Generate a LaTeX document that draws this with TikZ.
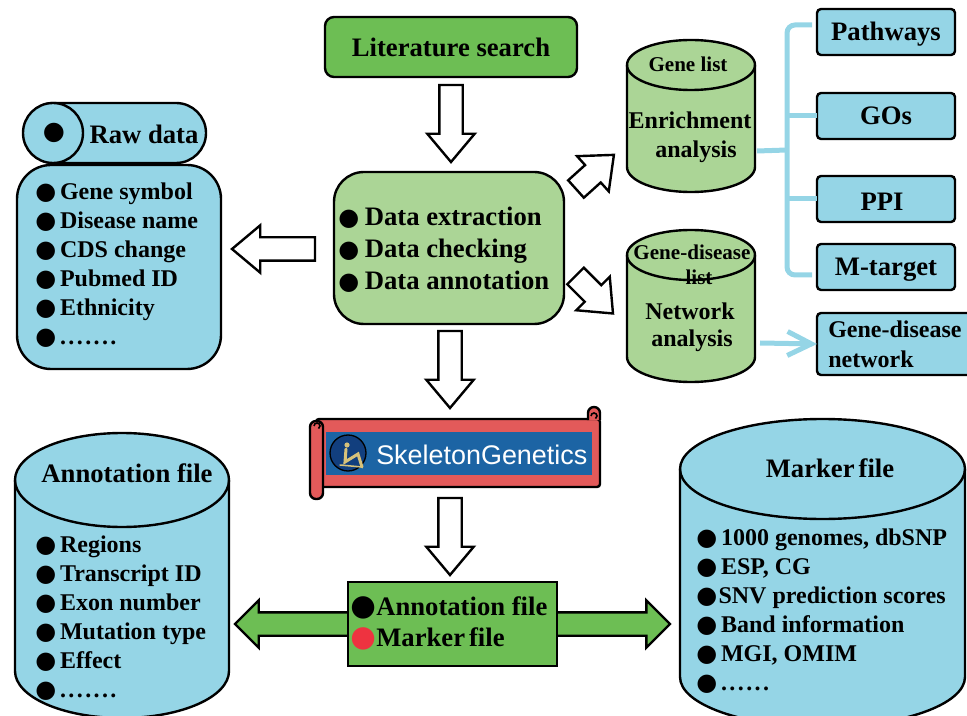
\documentclass[tikz,border=0pt]{standalone}
\usepackage{fontspec}
\setmainfont{Liberation Serif}
\setsansfont{Liberation Sans}
\newfontfamily\symfont{DejaVu Sans}
\usetikzlibrary{shapes.geometric}
\usetikzlibrary{shapes.arrows}
\usetikzlibrary{shapes.misc}
\usetikzlibrary{arrows.meta}
\newdimen\pxu
\pxu=0.75pt
\definecolor{skyfill}{HTML}{95D5E6}
\definecolor{paleleaf}{HTML}{ABD596}
\definecolor{leaf}{HTML}{6DBE54}
\definecolor{scrollred}{HTML}{E35A5A}
\definecolor{scrollblue}{HTML}{1C64A4}
\definecolor{logoblue}{HTML}{123F7E}
\definecolor{boneTan}{HTML}{D8C27A}
\definecolor{dotred}{HTML}{EE3340}
\newcommand{\blob}[2][black]{\textcolor{#1}{\symfont\fontsize{#2}{#2}\selectfont ●}}
\newcommand{\listdot}{\blob{18}\hspace{2.9pt}}
\newcommand{\dotrun}[1]{{\addfontfeature{LetterSpace=10}#1}}
% fill, centre x, top y, x radius, y radius, bottom y
\newcommand{\barrel}[6]{
	\draw[outlined, fill=#1] (#2-#4,#3+#5) arc (180:360:#4 and #5) -- (#2+#4,#6-#5) arc (0:180:#4 and #5) -- cycle;
	\draw[outlined] (#2-#4,#3+#5) arc (180:0:#4 and #5);
}
\tikzset{
	outlined/.style={draw=black, line width=1.8pt, inner sep=0pt, outer sep=0pt},
	titletext/.style={font=\fontsize{20}{24}\selectfont\bfseries},
	midtext/.style={font=\fontsize{18}{22}\selectfont\bfseries, align=center},
	smalltext/.style={font=\fontsize{15.8}{19}\selectfont\bfseries},
	listtext/.style={font=\fontsize{18}{21.75}\selectfont\bfseries, align=left, anchor=west, inner sep=0pt},
	bluebox/.style={outlined, rectangle, rounded corners=4\pxu, fill=skyfill, titletext, text height=16pt, text depth=3.2pt, minimum width=138\pxu, minimum height=46\pxu},
	blockarrow/.style={outlined, single arrow, single arrow head extend=12\pxu, single arrow tip angle=80, inner xsep=0pt, inner ysep=10.5\pxu, fill=white, anchor=tail},
	link/.style={draw=skyfill, line width=5\pxu, rounded corners=8\pxu}
}

\begin{document}
\begin{tikzpicture}[x=1\pxu, y=-1\pxu]
\clip (0,0) rectangle (967,716);

\node[outlined, rectangle, rounded corners=9\pxu, fill=leaf, titletext, minimum width=252\pxu, minimum height=60\pxu] (litsearch) at (451,47) {Literature search};

\node[outlined, rectangle, rounded corners=30\pxu, fill=paleleaf, minimum width=230\pxu, minimum height=152\pxu] (dataproc) at (449,248) {};
\node[font=\fontsize{20}{24}\selectfont\bfseries, align=left, anchor=west, inner sep=0pt] (datatext) at (338,250) {\blob{18}\hspace{4.2pt}Data extraction\\\blob{18}\hspace{4.2pt}Data checking\\\blob{18}\hspace{4.2pt}Data annotation};

% raw data, left side
\node[outlined, rounded rectangle, fill=skyfill, minimum width=182\pxu, minimum height=60\pxu] (rawhead) at (115,133) {};
\node[outlined, circle, fill=skyfill, minimum size=60\pxu] (rawend) at (53,133) {\hspace{1.5pt}\blob{19}};
\node[titletext] (rawtitle) at (144,134) {Raw data};
\node[outlined, rectangle, rounded corners=34\pxu, fill=skyfill, minimum width=204\pxu, minimum height=204\pxu] (rawbox) at (119,267) {};
\node[listtext] (rawlist) at (35,265) {\listdot Gene symbol\\\listdot Disease name\\\listdot CDS change\\\listdot Pubmed ID\\\listdot Ethnicity\\\listdot\dotrun{.......}};

% analysis barrels
\barrel{paleleaf}{691}{40}{64}{25}{192}
\node[smalltext] (genelist) at (688,64) {Gene list};
\node[midtext] (enrichtext) at (690,120) {Enrichment};
\node[midtext] (enrichtwo) at (696,152) {analysis};
\barrel{paleleaf}{691}{230}{64}{25}{382}
\node[smalltext] (diseaselist) at (692,252) {Gene-disease};
\node[smalltext] (diseasetwo) at (699,277) {list};
\node[midtext] (networktext) at (690,311) {Network};
\node[midtext] (networktwo) at (692,341) {analysis};

\node[bluebox] (pathways) at (886,32) {Pathways};
\node[bluebox] (gos) at (886,116) {GOs};
\node[bluebox, text height=18pt, text depth=0pt] (ppi) at (886,199) {\hspace*{-6pt}PPI};
\node[bluebox] (mtarget) at (886,267) {M-target};
\node[outlined, rectangle, rounded corners=4\pxu, fill=skyfill, minimum width=162\pxu, minimum height=62\pxu] (genenet) at (898,344) {};
\node[font=\fontsize{18}{22.5}\selectfont\bfseries, align=left, anchor=west, inner sep=0pt] (genenettext) at (828,344) {Gene-disease\\network};

\coordinate (hub) at (787,150);
\coordinate (enrichout) at (757,151);
\coordinate (netout) at (760,343);
\coordinate (pathin) at (812,25);
\coordinate (targetin) at (812,275);
\draw[link] (pathin) -- (787,25) -- (787,275) -- (targetin);
\draw[link] (enrichout) -- (hub);
\draw[link] (hub |- gos) -- (gos.west);
\draw[link] (hub |- ppi) -- (ppi.west);
\draw[draw=skyfill, line width=5\pxu, -{Straight Barb[length=18pt, width=18pt, line width=3.75pt]}] (netout) -- (genenet.west);

% scroll
\draw[outlined, fill=scrollred, rounded corners=3\pxu] (316,419) -- (600,419) -- (600,487) -- (318,487) -- cycle;
\draw[outlined, fill=scrollred] (588,420) -- (588,413) arc (180:360:6) -- (600,420);
\draw[line width=1.2pt] (591,416) arc (180:420:3);
\draw[outlined, fill=scrollred, rounded corners=6\pxu] (310,421) rectangle (323,499);
\draw[line width=1.2pt] (314,426) arc (180:420:3);
\node[rectangle, fill=scrollblue, inner sep=0pt, minimum width=266\pxu, minimum height=43\pxu] (scrollpanel) at (459,453) {};
\node[circle, draw=black, line width=1pt, fill=logoblue, minimum size=36\pxu, inner sep=0pt] (skeletonlogo) at (348,453) {};
\fill[boneTan] (347,445) circle (2.6);
\draw[boneTan, line width=3\pxu, line cap=round] (346,449) -- (345,462) -- (358,454) -- (362,467);
\draw[boneTan, line width=1.5\pxu, line cap=round] (340,465) -- (362,467);
\node[font=\fontsize{20.2}{24}\selectfont\sffamily, text=white, anchor=west, inner sep=0pt] (skeletontext) at (376,455) {SkeletonGenetics};

% bottom
\node[outlined, double arrow, double arrow head extend=12\pxu, inner xsep=0pt, inner ysep=10.5\pxu, fill=leaf, minimum height=435\pxu] (filearrow) at (452.5,624) {};
\node[outlined, rectangle, fill=leaf, minimum width=209\pxu, minimum height=84\pxu] (filebox) at (452.5,624) {};
\node[font=\fontsize{20}{23.25}\selectfont\bfseries, align=left, anchor=west, inner sep=0pt] (filetext) at (350,623) {\blob{22}\hspace{0.3pt}Annotation file\\\blob[dotred]{22}\hspace{0.3pt}Marker\hspace{3pt}file};

\barrel{skyfill}{122}{433}{107}{47}{718}
\node[titletext] (annottitle) at (127,473) {Annotation file};
\node[listtext] (annotlist) at (35,618) {\listdot Regions\\\listdot Transcript ID\\\listdot Exon number\\\listdot Mutation type\\\listdot Effect\\\listdot\dotrun{.......}};

\barrel{skyfill}{822.5}{419}{142.5}{50}{727}
\node[titletext] (markertitle) at (830,468) {Marker\hspace{3pt}file};
\node[listtext] (markerlist) at (696,611) {\listdot 1000 genomes, dbSNP\\\listdot ESP, CG\\\blob{18}\hspace{1pt}SNV prediction scores\\\listdot Band information\\\listdot MGI, OMIM\\\listdot\dotrun{......}};

% white arrows
\node[blockarrow, rotate=-90, minimum height=77\pxu] (toproc) at (451,85) {};
\node[blockarrow, rotate=-90, minimum height=77\pxu] (toscroll) at (450,331) {};
\node[blockarrow, rotate=-90, minimum height=77\pxu] (tofiles) at (450,498) {};
\node[blockarrow, rotate=180, minimum height=83\pxu] (torawdata) at (315,249) {};
\node[blockarrow, rotate=42, minimum height=51\pxu] (toenrich) at (576,189) {};
\node[blockarrow, rotate=-45, minimum height=53\pxu] (tonetwork) at (575.5,276) {};

\end{tikzpicture}
\end{document}
